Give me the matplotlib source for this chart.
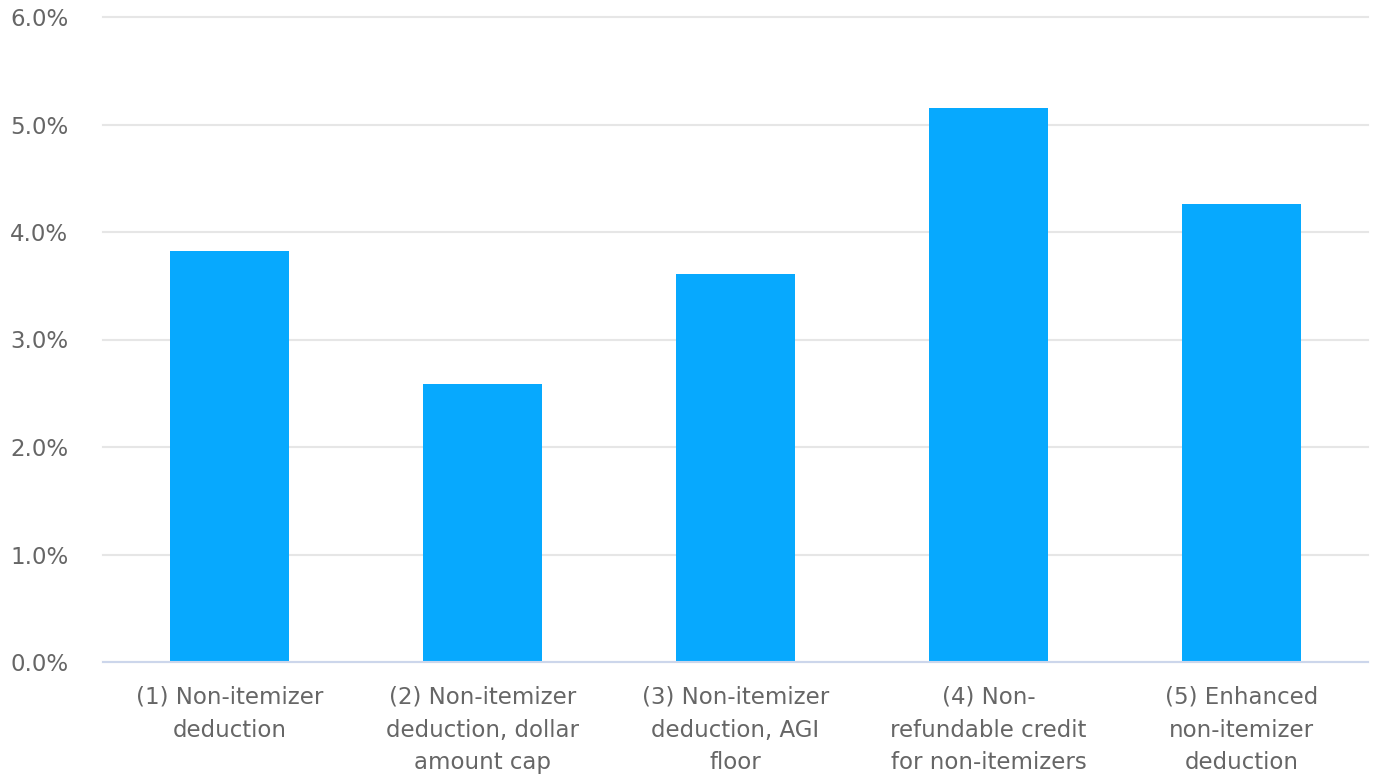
import matplotlib.pyplot as plt
from matplotlib.ticker import FuncFormatter, MultipleLocator

# Share of charitable giving increase by policy option (percent)
categories = [
    "(1) Non-itemizer\ndeduction",
    "(2) Non-itemizer\ndeduction, dollar\namount cap",
    "(3) Non-itemizer\ndeduction, AGI\nfloor",
    "(4) Non-\nrefundable credit\nfor non-itemizers",
    "(5) Enhanced\nnon-itemizer\ndeduction",
]
values = [3.82, 2.59, 3.61, 5.15, 4.26]

BAR_COLOR = "#07a9fe"
TEXT_COLOR = "#666666"

plt.rcParams["font.family"] = ["DejaVu Sans"]

fig = plt.figure(figsize=(13.74, 7.78), dpi=100)
ax = fig.add_axes([103 / 1374, 1 - 662 / 778, 1265 / 1374, 645 / 778])

x = range(len(categories))
ax.bar(x, values, width=0.47, color=BAR_COLOR, zorder=3)

ax.set_xlim(-0.5, len(categories) - 0.5)
ax.set_ylim(0, 6)
ax.yaxis.set_major_locator(MultipleLocator(1))
ax.yaxis.set_major_formatter(FuncFormatter(lambda v, _: f"{v:.1f}%"))
ax.grid(axis="y", color="#e6e6e6", linewidth=1.5, zorder=0)
for gl in ax.get_ygridlines():
    gl.set_clip_on(False)

ax.set_xticks(list(x))
ax.set_xticklabels(categories, linespacing=1.55)

for side in ("top", "right", "left"):
    ax.spines[side].set_visible(False)
ax.spines["bottom"].set_color("#ccd6eb")
ax.spines["bottom"].set_linewidth(1.5)
ax.spines["bottom"].set_zorder(4)

ax.tick_params(axis="x", length=0, pad=17, labelsize=16.5, labelcolor=TEXT_COLOR)
ax.tick_params(axis="y", length=0, pad=25, labelsize=16.5, labelcolor=TEXT_COLOR)

fig.savefig("out.png", dpi=100)
